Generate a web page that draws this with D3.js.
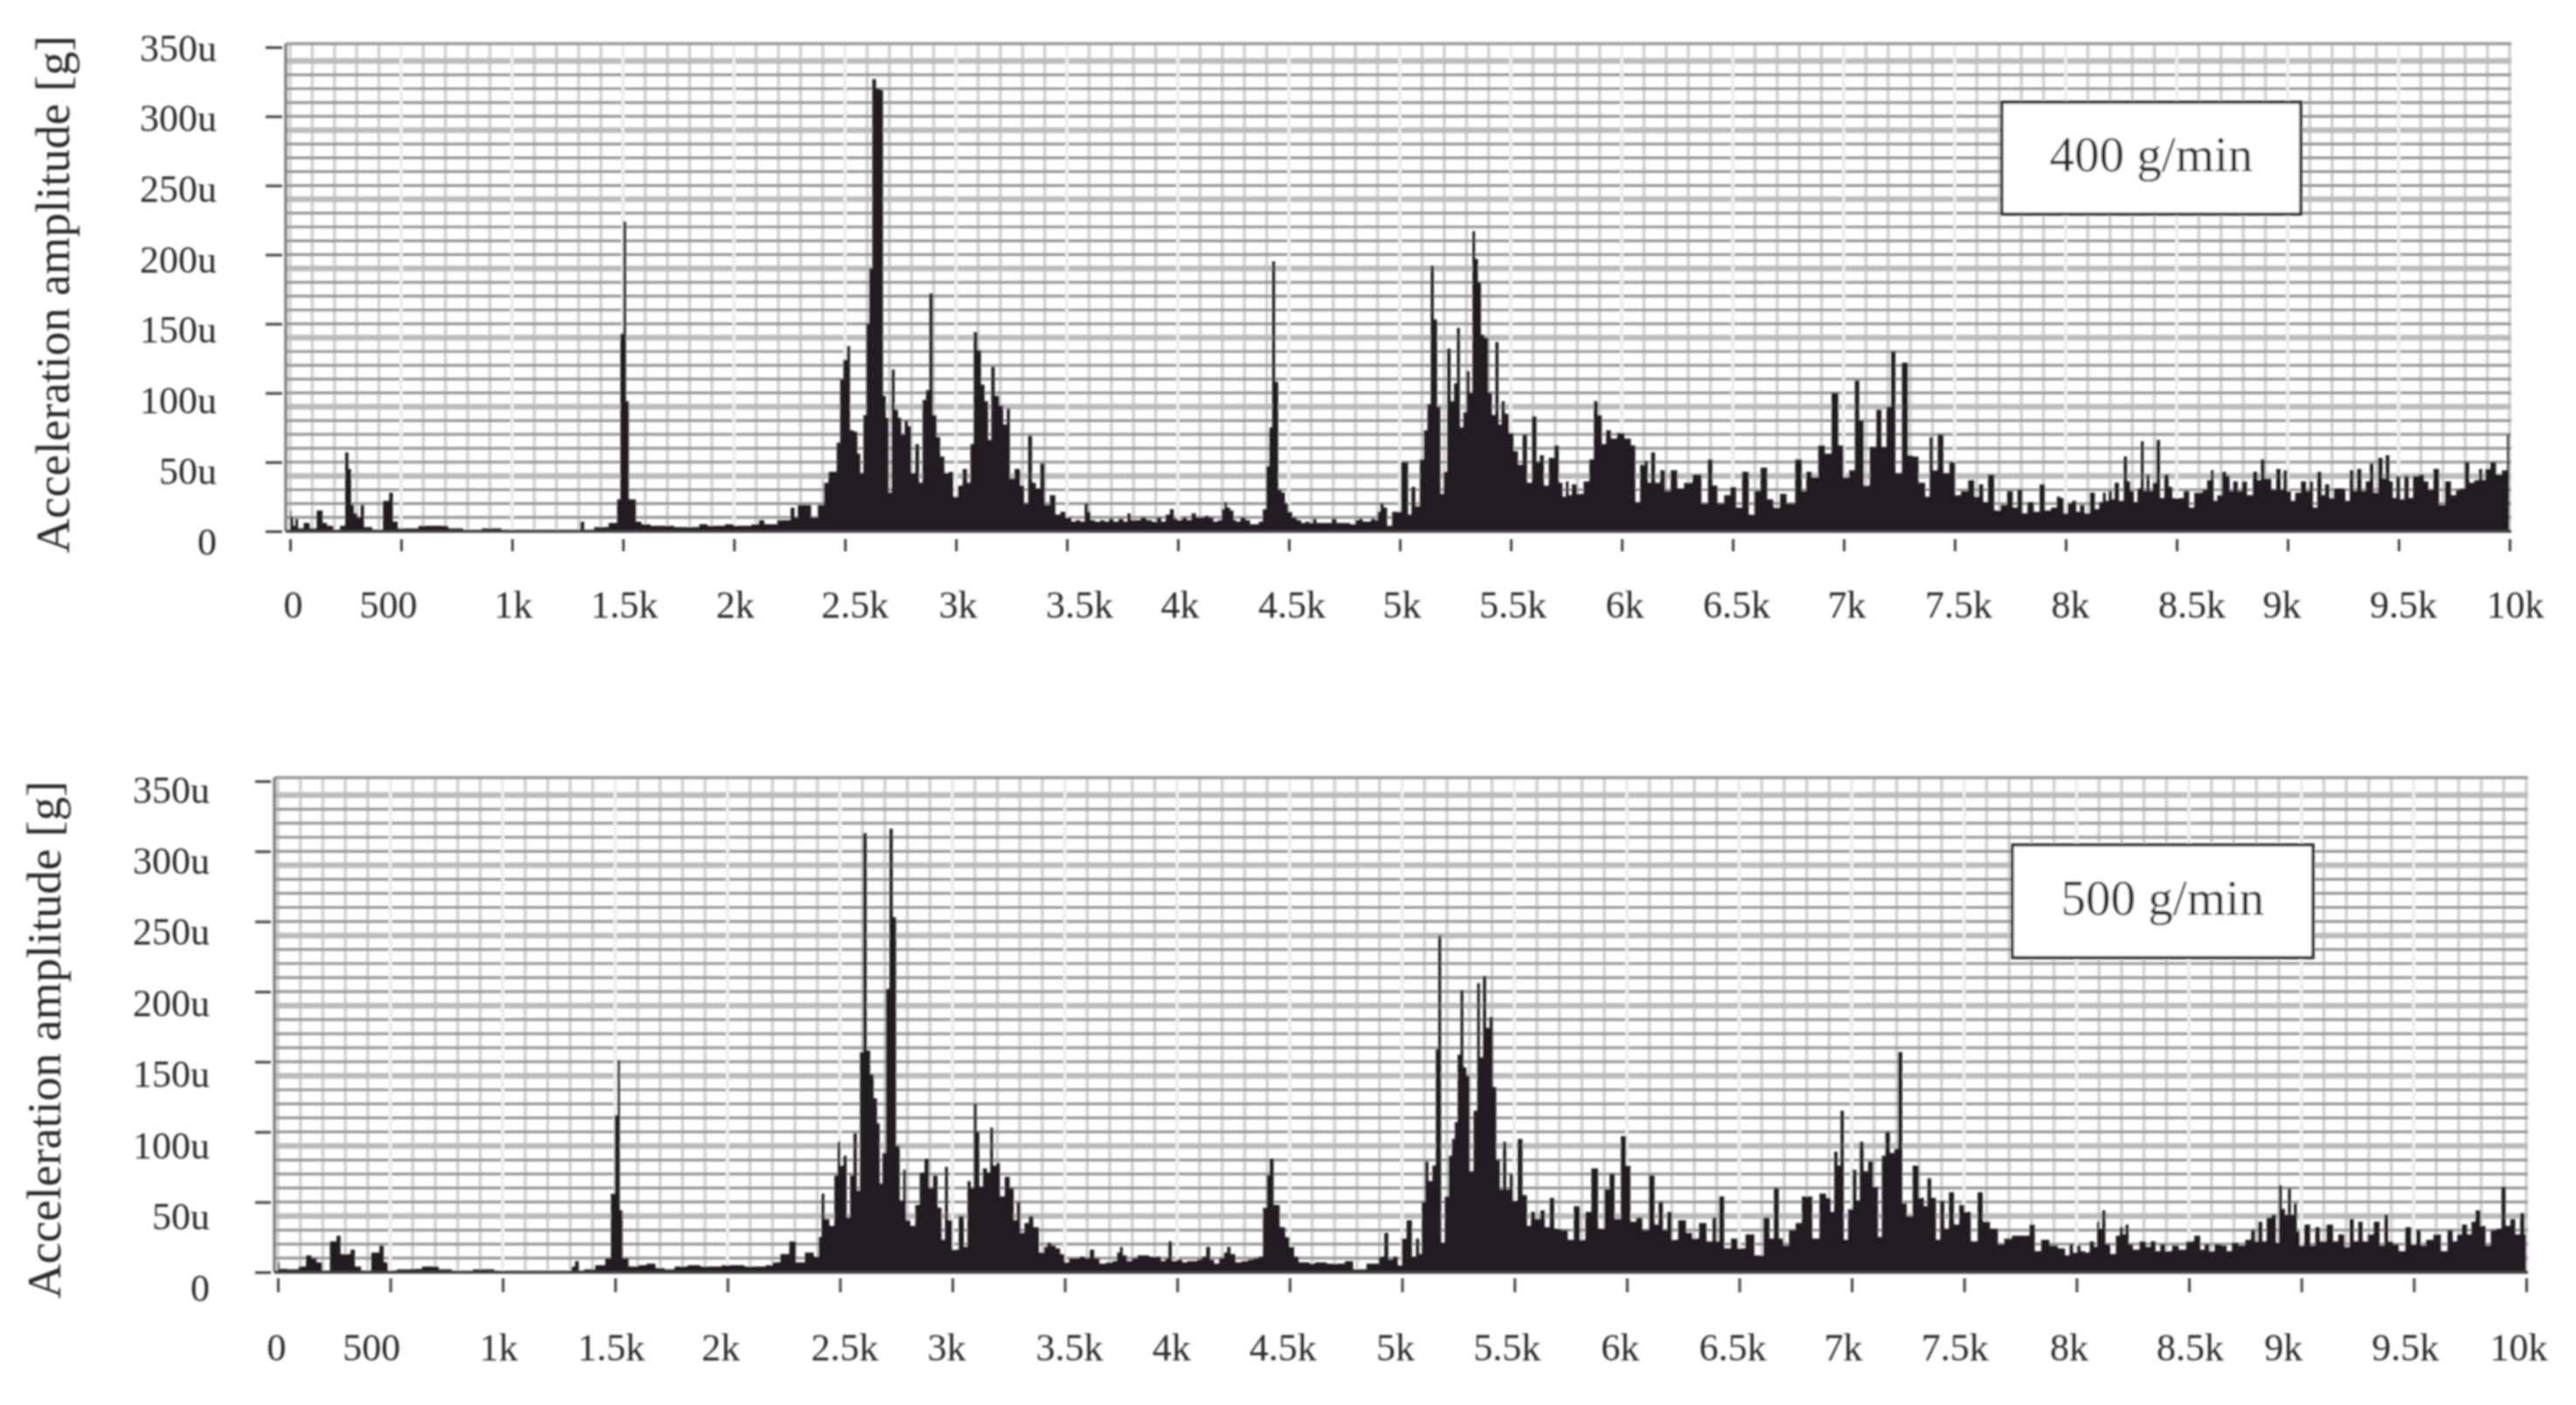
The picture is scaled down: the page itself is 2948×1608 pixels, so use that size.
<!DOCTYPE html>
<html>
<head>
<meta charset="utf-8">
<title>Acceleration spectra</title>
<script src="https://cdn.jsdelivr.net/npm/d3@7"></script>
<style>
  html, body { margin: 0; padding: 0; background: #fff; }
  text { font-family: "Liberation Serif", serif; fill: #2a2a2a; }
</style>
</head>
<body>
<script>
var width = 2948, height = 1608;

/* tick values and their labels, same for both panels */
var yTickValues = [0, 50, 100, 150, 200, 250, 300, 350];
var yTickLabels = ["0", "50u", "100u", "150u", "200u", "250u", "300u", "350u"];
var xTickValues = d3.range(0, 10001, 500);
var xTickLabels = ["0", "500", "1k", "1.5k", "2k", "2.5k", "3k", "3.5k", "4k", "4.5k", "5k",
  "5.5k", "6k", "6.5k", "7k", "7.5k", "8k", "8.5k", "9k", "9.5k", "10k"];

/* [frequency Hz, amplitude micro-g] */
var spectrum400 = [
  [0,15],[9,10],[19,4],[29,9],[43,2],[79,6],[99,2],[140,15],[153,6],[180,4],[210,1],[240,4],
  [256,57],[270,45],[280,19],[296,13],[310,10],[326,19],[340,3],[400,1],[437,22],[455,28],[471,7],
  [500,2],[560,2],[597,4],[652,4],[772,2],[785,0.7],[943,2],[960,0.7],[1300,0.7],[1315,7],[1335,1],
  [1405,3],[1465,6],[1481,23],[1495,143],[1507,224],[1520,94],[1532,23],[1550,23],[1566,7],[1600,5],[1646,4],
  [1700,4],[1760,3],[1827,3],[1860,5],[1900,4],[1940,4],[1980,5],[2020,4],[2060,4],[2100,5],[2124,8],[2150,5],[2185,5],
  [2205,8],[2245,8],[2265,17],[2280,10],[2295,19],[2335,19],[2360,10],
  [2395,19],[2415,35],[2435,43],[2455,43],[2470,64],[2486,110],[2500,124],[2516,134],[2530,73],[2550,72],
  [2562,56],[2576,42],[2590,84],[2602,150],[2616,190],[2630,327],[2650,320],[2666,319],[2677,98],[2691,82],
  [2703,28],[2717,117],[2731,88],[2747,82],[2761,70],[2777,80],[2791,76],[2807,42],[2827,63],[2841,35],
  [2858,95],[2872,102],[2888,172],[2904,84],[2920,68],[2938,54],[2958,42],[2978,43],[2998,25],[3018,33],
  [3042,45],[3058,35],[3072,63],[3088,144],[3105,131],[3121,106],[3137,94],[3153,66],[3165,119],[3185,98],
  [3205,91],[3221,77],[3237,89],[3249,38],[3279,45],[3300,33],[3314,20],[3336,69],[3350,35],[3370,31],
  [3390,49],[3410,19],[3436,26],[3460,12],[3480,14],[3510,10],[3530,7],[3550,8],[3570,7],[3590,20],[3600,14],
  [3612,8],[3640,7],[3660,8],[3680,7],[3700,9],[3720,7],[3745,9],[3765,7],[3780,13],[3795,8],[3820,8],[3845,10],
  [3870,8],[3895,7],[3915,10],[3935,7],[3955,12],[3973,16],[3990,9],[4010,8],[4030,10],[4050,8],[4073,13],[4090,10],
  [4110,10],[4130,11],[4150,10],[4170,7],[4190,8],[4205,16],[4214,21],[4228,17],[4243,15],[4258,8],[4270,7],[4294,10],
  [4315,8],[4335,5],[4354,5],[4375,7],[4390,16],[4405,47],[4418,75],[4431,195],[4445,108],[4459,30],[4475,28],[4490,20],
  [4505,14],[4525,10],[4545,8],[4565,6],[4585,7],[4600,6],[4618,9],[4630,6],[4660,6],[4680,6],[4708,9],[4720,6],[4760,6],
  [4790,5],[4810,8],[4825,9],[4840,7],[4860,7],[4880,9],[4895,8],[4905,14],[4919,20],[4935,17],[4950,4],
  [4980,14],[5030,50],[5044,12],[5060,32],[5080,18],[5100,52],[5116,73],[5132,92],[5146,192],[5160,153],
  [5176,90],[5190,27],[5205,43],[5221,132],[5237,94],[5251,107],[5263,147],[5279,75],[5293,86],[5307,116],
  [5321,100],[5333,217],[5345,197],[5359,180],[5373,142],[5391,140],[5407,100],[5423,84],[5438,137],[5452,77],
  [5464,94],[5482,85],[5502,71],[5522,58],[5542,48],[5564,70],[5582,35],[5608,83],[5623,50],[5639,55],
  [5659,33],[5683,53],[5709,62],[5723,35],[5743,25],[5753,36],[5767,26],[5783,34],[5813,27],[5843,36],
  [5864,52],[5884,94],[5900,84],[5920,63],[5938,73],[5964,67],[5994,71],[6030,67],[6052,62],[6070,21],
  [6095,48],[6109,51],[6125,35],[6139,57],[6161,35],[6185,44],[6205,29],[6235,44],[6265,31],[6296,35],
  [6342,41],[6376,20],[6400,52],[6416,33],[6446,20],[6476,26],[6503,32],[6527,17],[6557,43],[6587,12],
  [6607,29],[6643,46],[6667,23],[6698,17],[6727,27],[6758,20],[6804,52],[6818,29],[6844,43],[6868,39],
  [6902,62],[6928,56],[6962,100],[6989,62],[7009,39],[7039,44],[7061,109],[7079,80],[7101,33],[7133,61],
  [7161,88],[7179,61],[7206,90],[7220,130],[7246,42],[7278,122],[7300,55],[7320,54],[7354,35],[7380,25],
  [7394,68],[7410,44],[7437,70],[7461,42],[7491,50],[7514,26],[7542,29],[7579,37],[7598,25],[7621,34],
  [7636,21],[7664,41],[7692,15],[7720,19],[7752,29],[7771,17],[7795,30],[7814,13],[7842,21],[7870,14],[7895,34],
  [7917,15],[7950,17],[7970,25],[7984,24],[8000,13],[8017,20],[8039,22],[8056,14],[8073,19],[8096,13],[8122,28],
  [8141,16],[8161,21],[8174,28],[8187,22],[8201,29],[8214,23],[8227,35],[8253,22],[8270,54],[8283,36],[8299,29],
  [8315,21],[8332,31],[8345,65],[8358,29],[8371,41],[8384,29],[8401,35],[8417,66],[8433,24],[8456,41],[8472,32],
  [8489,24],[8522,24],[8542,29],[8571,17],[8588,28],[8607,28],[8627,30],[8647,37],[8660,44],[8673,22],[8693,26],
  [8715,43],[8732,40],[8745,29],[8765,36],[8785,29],[8804,36],[8830,26],[8857,43],[8870,37],[8889,52],[8903,38],
  [8918,38],[8935,30],[8962,45],[8975,30],[8988,44],[9008,29],[9021,22],[9047,28],[9073,36],[9093,29],[9106,36],
  [9122,17],[9145,43],[9159,26],[9178,34],[9198,24],[9218,31],[9250,31],[9270,22],[9290,44],[9303,29],[9323,45],
  [9342,29],[9362,36],[9378,49],[9395,28],[9421,53],[9434,38],[9450,55],[9467,36],[9480,24],[9500,40],[9513,23],
  [9539,40],[9552,24],[9578,40],[9605,41],[9624,36],[9644,30],[9670,45],[9694,19],[9723,36],[9749,26],[9769,30],
  [9788,31],[9808,50],[9828,35],[9854,37],[9870,45],[9883,37],[9900,45],[9926,50],[9952,41],[9979,44],[9998,70]
];

var spectrum500 = [
  [0,7],[13,2.4],[73,2],[112,4],[138,12],[162,10],[182,7],[212,1],[251,22],[271,26],[287,13],[311,13],
  [335,16],[350,4],[390,1],[440,14],[463,19],[479,7],[499,1],[558,2],[618,2.4],[664,4],[767,2],[780,0.7],
  [955,2],[970,0.7],[1300,0.7],[1312,4],[1332,8],[1345,1],[1381,2],[1441,5],[1471,10],[1491,56],[1505,112],
  [1516,151],[1526,44],[1540,10],[1580,4],[1620,5],[1659,6],[1700,3],[1739,2],[1790,4],[1857,5],[1900,4],[1950,4],
  [2000,5],[2050,5],[2100,4],[2150,4],[2190,5],[2210,7],
  [2260,13],[2289,22],[2319,7],[2369,14],[2398,11],[2412,25],[2424,56],[2438,38],[2468,33],[2482,69],[2498,93],
  [2508,76],[2523,83],[2537,39],[2553,69],[2567,99],[2583,58],[2595,157],[2611,313],[2627,158],[2642,141],
  [2658,124],[2672,106],[2682,63],[2696,85],[2712,202],[2728,316],[2742,253],[2757,90],[2775,51],[2787,73],
  [2801,37],[2825,33],[2845,48],[2864,71],[2888,81],[2904,60],[2924,69],[2944,46],[2960,23],[2974,75],
  [2987,37],[3013,16],[3043,40],[3059,18],[3075,65],[3089,60],[3102,120],[3114,100],[3126,61],[3146,74],
  [3162,71],[3174,103],[3188,76],[3202,78],[3221,54],[3245,68],[3265,60],[3281,37],[3293,50],[3311,28],
  [3330,35],[3350,40],[3370,32],[3400,14],[3415,18],[3430,21],[3450,19],[3469,17],[3490,13],[3509,7],[3530,10],
  [3555,10],[3578,11],[3600,10],[3622,16],[3640,10],[3668,6],[3700,7],[3725,8],[3740,14],[3751,18],[3765,12],
  [3787,8],[3810,10],[3836,12],[3860,12],[3890,11],[3915,11],[3940,8],[3955,10],[3967,22],[3985,8],[4010,9],
  [4035,7],[4054,8],[4080,8],[4100,9],[4120,11],[4138,18],[4155,9],[4173,6],[4200,10],[4215,14],[4229,18],
  [4245,13],[4272,7],[4300,8],[4330,9],[4350,10],[4372,11],[4391,46],[4405,69],[4417,81],[4441,48],[4471,32],
  [4490,25],[4510,18],[4530,11],[4550,7],[4580,7],[4600,6],[4625,7],[4649,7],[4680,6],[4705,6],[4729,6],[4763,8],
  [4802,2],[4882,6],[4911,11],[4931,28],[4947,9],[4971,11],[4991,5],[5006,24],[5034,37],[5054,11],[5070,24],
  [5082,13],[5094,50],[5110,79],[5125,65],[5145,76],[5155,159],[5167,240],[5181,21],[5199,54],[5215,83],
  [5229,95],[5240,107],[5254,155],[5266,201],[5280,146],[5294,140],[5308,72],[5328,115],[5340,206],[5353,153],
  [5367,211],[5381,174],[5397,182],[5411,132],[5427,80],[5443,59],[5455,93],[5472,59],[5486,70],[5502,51],
  [5526,95],[5546,55],[5566,33],[5580,43],[5605,38],[5625,44],[5645,32],[5669,53],[5685,31],[5724,30],
  [5750,23],[5778,47],[5804,23],[5827,43],[5857,74],[5887,31],[5913,59],[5933,70],[5958,38],[5988,97],
  [6006,76],[6026,36],[6057,39],[6081,30],[6115,69],[6131,34],[6151,50],[6170,30],[6190,43],[6210,23],
  [6246,37],[6280,28],[6303,24],[6339,35],[6369,22],[6393,39],[6403,22],[6418,54],[6448,17],[6478,24],
  [6508,17],[6547,27],[6587,12],[6627,39],[6642,24],[6666,60],[6686,24],[6706,19],[6736,30],[6765,35],
  [6791,54],[6811,54],[6839,24],[6874,56],[6898,53],[6914,43],[6930,86],[6944,76],[6956,115],[6974,23],
  [6993,45],[7013,73],[7029,51],[7043,93],[7063,72],[7083,79],[7108,61],[7126,25],[7142,83],[7158,100],
  [7182,85],[7198,88],[7215,157],[7235,49],[7255,40],[7287,76],[7311,53],[7331,47],[7342,67],[7366,53],
  [7384,23],[7403,51],[7421,31],[7444,57],[7466,34],[7490,48],[7514,43],[7546,22],[7574,57],[7592,36],
  [7638,31],[7663,20],[7694,24],[7731,26],[7777,26],[7805,34],[7824,15],[7861,23],[7898,19],[7935,17],
  [7963,12],[7975,20],[7995,14],[8008,19],[8028,15],[8047,14],[8070,22],[8087,18],[8096,36],[8106,31],[8122,44],
  [8135,20],[8165,13],[8185,26],[8201,32],[8211,27],[8225,34],[8238,20],[8264,16],[8297,22],[8319,18],[8340,22],
  [8363,15],[8382,20],[8409,15],[8441,19],[8468,16],[8507,22],[8540,26],[8560,16],[8579,20],[8603,15],[8625,20],
  [8658,19],[8678,15],[8704,21],[8737,19],[8763,23],[8790,30],[8800,22],[8816,36],[8836,22],[8855,39],[8879,41],
  [8895,21],[8905,62],[8921,45],[8934,41],[8947,60],[8960,41],[8973,49],[8987,29],[9000,19],[9026,34],[9052,19],
  [9072,32],[9092,22],[9131,34],[9151,22],[9177,27],[9207,18],[9223,38],[9243,22],[9263,36],[9282,22],[9309,27],
  [9335,36],[9361,19],[9378,41],[9394,22],[9420,20],[9446,15],[9479,32],[9499,20],[9523,30],[9538,19],[9571,23],
  [9604,27],[9637,15],[9663,30],[9683,22],[9703,27],[9725,34],[9749,27],[9764,36],[9785,44],[9808,33],[9831,19],
  [9854,30],[9880,31],[9900,61],[9917,33],[9942,38],[9961,27],[9985,42],[10000,27]
];

/* x labels sit unevenly in the original, so each one gets its own nudge in px */
var xNudgeTop = [3, -15, 1, 1, 1, 11, 2, 14, 2, 3, 2, 2, 3, 4, 3, 4, 5, 17, -7, 5, 6];
var xNudgeBottom = [-2, -22, -5, -5, -8, 5, -7, 5, -7, -8, -8, -9, -8, -8, -10, -11, -9, 1, -21, -10, -9];

var svg = d3.select("body").append("svg")
  .attr("width", width).attr("height", height)
  .style("display", "block");

// the reference is a soft scan, so the whole drawing gets a slight blur
svg.append("defs").append("filter")
  .attr("id", "soft")
  .attr("filterUnits", "userSpaceOnUse")
  .attr("x", 0).attr("y", 0).attr("width", width).attr("height", height)
  .append("feGaussianBlur").attr("stdDeviation", 1);

var root = svg.append("g").attr("filter", "url(#soft)");

function drawPanel(p) {
  var g = root.append("g");

  var x = d3.scaleLinear().domain([0, 10000]).range([p.x0, p.x1]);
  var y = d3.scaleLinear().domain([0, 350]).range([p.y0, p.y350]);
  var yLabel = d3.scaleLinear().domain([0, 350]).range([p.labelY0, p.labelY350]);

  /* grid */
  var grid = g.append("g");
  grid.selectAll("line.v").data(d3.range(0, 10001, 100)).join("line")
    .attr("class", "v")
    .attr("x1", d => x(d)).attr("x2", d => x(d))
    .attr("y1", p.top).attr("y2", p.y0)
    .attr("stroke", "#d0d0d0").attr("stroke-width", 3.5);

  // every fifth horizontal line comes out wider and paler in the original
  grid.selectAll("line.h").data(d3.range(10, 350, 10)).join("line")
    .attr("class", "h")
    .attr("x1", p.left).attr("x2", p.right)
    .attr("y1", d => y(d)).attr("y2", d => y(d))
    .attr("stroke", d => (d % 50 == 40 ? "#bcbcbc" : "#979797"))
    .attr("stroke-width", d => (d % 50 == 40 ? 6.5 : 3.2));

  grid.selectAll("line.w").data(d3.range(500, 10000, 500)).join("line")
    .attr("class", "w")
    .attr("x1", d => x(d)).attr("x2", d => x(d))
    .attr("y1", p.top).attr("y2", p.y0)
    .attr("stroke", "#efefef").attr("stroke-width", 3.5);

  /* frame */
  g.append("line").attr("x1", p.left).attr("x2", p.right).attr("y1", p.top).attr("y2", p.top)
    .attr("stroke", "#999").attr("stroke-width", 3.5);
  g.append("line").attr("x1", p.left).attr("x2", p.left).attr("y1", p.top).attr("y2", p.y0)
    .attr("stroke", "#808080").attr("stroke-width", 3.5);

  /* spectrum */
  var area = d3.area()
    .curve(d3.curveStep)
    .x(d => x(d[0]))
    .y0(y(0))
    .y1(d => y(d[1]));

  g.append("path").datum(p.data)
    .attr("d", area)
    .attr("fill", "#231f20");

  g.append("line").attr("x1", p.left).attr("x2", p.right).attr("y1", y(0)).attr("y2", y(0))
    .attr("stroke", "#3c3c3c").attr("stroke-width", 3.5);

  /* y axis, ticks float left of the frame */
  var yAxis = d3.axisLeft(y)
    .tickValues(yTickValues)
    .tickSize(p.yTickLen)
    .tickPadding(p.yTickPad)
    .tickFormat((d, i) => yTickLabels[i]);

  var yG = g.append("g").attr("transform", "translate(" + p.yAxisX + ",0)").call(yAxis);
  yG.select(".domain").remove();
  yG.selectAll("line").attr("stroke", "#444").attr("stroke-width", 3);
  yG.selectAll("text")
    .attr("transform", d => "translate(0," + (yLabel(d) - y(d)) + ")")
    .style("font-family", '"Liberation Serif", serif')
    .style("font-size", "44px")
    .attr("fill", "#2a2a2a");

  /* x axis */
  var xAxis = d3.axisBottom(x)
    .tickValues(xTickValues)
    .tickSize(p.xTickLen)
    .tickFormat((d, i) => xTickLabels[i]);

  var xG = g.append("g").attr("transform", "translate(0," + p.xAxisY + ")").call(xAxis);
  xG.select(".domain").remove();
  xG.selectAll("line").attr("stroke", "#444").attr("stroke-width", 3);
  xG.selectAll("text")
    .attr("y", p.xLabelBase - p.xAxisY)
    .attr("dy", 0)
    .attr("transform", (d, i) => "translate(" + p.xNudge[i] + ",0)")
    .style("font-family", '"Liberation Serif", serif')
    .style("font-size", "44px")
    .attr("fill", "#2a2a2a");

  /* axis title */
  g.append("text")
    .attr("transform", "translate(" + p.titleX + "," + p.titleY + ") rotate(-90)")
    .attr("text-anchor", "middle")
    .style("font-size", "55px")
    .text("Acceleration amplitude [g]");

  /* rate box */
  g.append("rect")
    .attr("x", p.boxX).attr("y", p.boxY).attr("width", p.boxW).attr("height", p.boxH)
    .attr("fill", "#fff").attr("stroke", "#2a2a2a").attr("stroke-width", 3.5);
  g.append("text")
    .attr("x", p.boxX + p.boxW / 2).attr("y", p.boxBase)
    .attr("text-anchor", "middle")
    .style("font-size", "57px")
    .text(p.rate);
}

drawPanel({
  data: spectrum400, rate: "400 g/min", xNudge: xNudgeTop,
  x0: 332, x1: 2872, left: 327, right: 2874, top: 50,
  y0: 608, y350: 54, labelY0: 620, labelY350: 55,
  yAxisX: 323, yTickLen: 19, yTickPad: 56,
  xAxisY: 617, xTickLen: 14, xLabelBase: 707,
  titleX: 79, titleY: 337,
  boxX: 2291, boxY: 117, boxW: 342, boxH: 128, boxBase: 196
});

drawPanel({
  data: spectrum500, rate: "500 g/min", xNudge: xNudgeBottom,
  x0: 318, x1: 2891, left: 314, right: 2893, top: 890,
  y0: 1456, y350: 894, labelY0: 1474, labelY350: 904,
  yAxisX: 310, yTickLen: 18, yTickPad: 52,
  xAxisY: 1463, xTickLen: 16, xLabelBase: 1557,
  titleX: 69, titleY: 1190,
  boxX: 2303, boxY: 967, boxW: 344, boxH: 129, boxBase: 1047
});
</script>
</body>
</html>
